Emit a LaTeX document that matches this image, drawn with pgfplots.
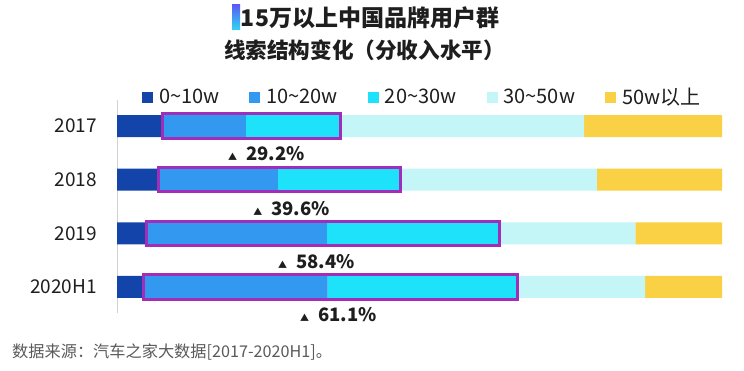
\documentclass[border=0pt]{standalone}
\usepackage{fontspec}
\setmainfont{Noto Sans CJK SC}
\usepackage{pgfplots}
\pgfplotsset{compat=1.18}
\definecolor{c1}{HTML}{1244AA}
\definecolor{c2}{HTML}{3399F0}
\definecolor{c3}{HTML}{1EE2FA}
\definecolor{c4}{HTML}{C4F6F8}
\definecolor{c5}{HTML}{FAD044}
\definecolor{boxp}{HTML}{A22DB8}
\definecolor{txt}{HTML}{1E1E1E}
\definecolor{foot}{HTML}{5A5A5A}
\definecolor{gtop}{HTML}{5A5CF5}
\definecolor{gbot}{HTML}{2ED8F2}
\begin{document}
\begin{tikzpicture}[x=1pt,y=1pt]
\path[use as bounding box,fill=white] (0,0) rectangle (744,-371);
% title
\shade[top color=gtop,bottom color=gbot] (232,-5) rectangle (240,-30);
\node[font=\fontsize{23}{23}\selectfont\bfseries,text=txt,inner sep=0pt] at (370,-18) {15万以上中国品牌用户群};
\node[font=\fontsize{21.6}{22}\selectfont\bfseries,text=txt,inner sep=0pt] at (364.5,-50) {线索结构变化（分收入水平）};
% footer
\node[font=\fontsize{16.2}{16}\selectfont,text=foot,inner sep=0pt,anchor=west] at (12,-352) {数据来源：汽车之家大数据[2017-2020H1]。};
\begin{axis}[
  at={(117pt,-100pt)}, anchor=north west,
  scale only axis, width=605pt, height=213pt,
  xbar stacked, bar width=22pt,
  xmin=0, xmax=100, ymin=-0.485, ymax=3.485,
  y dir=reverse,
  hide x axis,
  axis y line*=left,
  y axis line style={-, draw=gray!35, line width=0.8pt},
  ytick={0,1,2,3},
  yticklabels={2017,2018,2019,2020H1},
  major tick length=0pt,
  ytick style={draw=none},
  /pgf/number format/assume math mode=true,
  yticklabel style={font=\fontsize{19}{19}\selectfont, text=txt, inner sep=0pt, xshift=-20pt},
  clip=false,
  legend columns=5,
  legend style={draw=none, fill=none, at={(0.041,1.014)}, anchor=west,
    font=\fontsize{20}{20}\selectfont, text=txt, inner sep=0pt,
    /tikz/every odd column/.append style={column sep=4pt},
    /tikz/every even column/.append style={column sep=28pt}},
  legend cell align=left,
  legend image code/.code={\fill[#1] (0pt,-5.5pt) rectangle (11pt,5.5pt);},
]
\addplot[fill=c1, draw=none] coordinates {(7.3,0) (6.6,1) (4.6,2) (4.1,3)};
\addplot[fill=c2, draw=none] coordinates {(14.0,0) (20.0,1) (30.1,2) (30.7,3)};
\addplot[fill=c3, draw=none] coordinates {(15.4,0) (20.0,1) (28.4,2) (31.2,3)};
\addplot[fill=c4, draw=none] coordinates {(40.5,0) (32.7,1) (22.6,2) (21.3,3)};
\addplot[fill=c5, draw=none] coordinates {(22.8,0) (20.7,1) (14.3,2) (12.7,3)};
\legend{0\textasciitilde10w,10\textasciitilde20w,20\textasciitilde30w,30\textasciitilde50w,50w以上}
% highlight box corners
\coordinate (a0) at (axis cs:7.6,-0.225);  \coordinate (b0) at (axis cs:36.9,0.225);
\coordinate (a1) at (axis cs:6.9,0.775);   \coordinate (b1) at (axis cs:46.8,1.225);
\coordinate (a2) at (axis cs:4.9,1.775);   \coordinate (b2) at (axis cs:63.3,2.225);
\coordinate (a3) at (axis cs:4.4,2.775);   \coordinate (b3) at (axis cs:66.2,3.225);
% growth labels
\node[anchor=west, inner sep=0pt, text=txt, font=\fontsize{18.5}{18}\selectfont\bfseries] at (axis cs:18.35,0.51) {{\fontsize{9}{9}\selectfont ▲}\hspace{9pt}29.2\%};
\node[anchor=west, inner sep=0pt, text=txt, font=\fontsize{18.5}{18}\selectfont\bfseries] at (axis cs:22.5,1.54) {{\fontsize{9}{9}\selectfont ▲}\hspace{9pt}39.6\%};
\node[anchor=west, inner sep=0pt, text=txt, font=\fontsize{18.5}{18}\selectfont\bfseries] at (axis cs:26.6,2.53) {{\fontsize{9}{9}\selectfont ▲}\hspace{9pt}58.4\%};
\node[anchor=west, inner sep=0pt, text=txt, font=\fontsize{18.5}{18}\selectfont\bfseries] at (axis cs:30.25,3.52) {{\fontsize{9}{9}\selectfont ▲}\hspace{9pt}61.1\%};
\end{axis}
\foreach \i in {0,1,2,3} {\draw[boxp, line width=3pt] (a\i) rectangle (b\i);}
\end{tikzpicture}
\end{document}
